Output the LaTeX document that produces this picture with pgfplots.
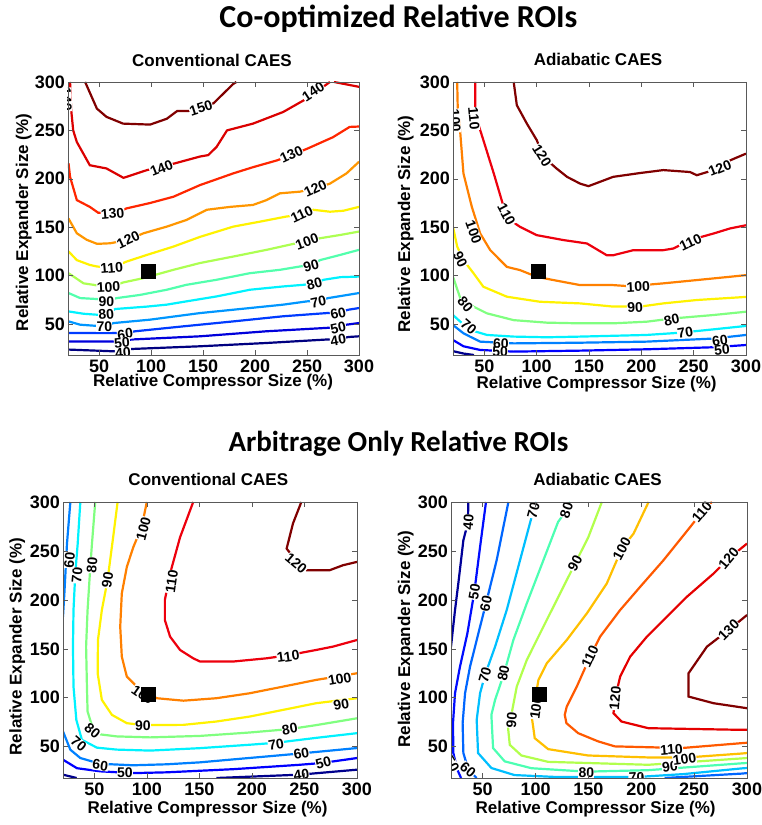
\documentclass[border=0pt]{standalone}
\usepackage{fontspec}
\setmainfont{Liberation Sans}
\newfontfamily\carlito{Carlito}
\usepackage{pgfplots}
\pgfplotsset{compat=1.18}

% contour colours (jet-like)
\definecolor{a40}{rgb}{0,0,0.5}
\definecolor{a50}{rgb}{0,0,0.86}
\definecolor{a60}{rgb}{0,0.23,1}
\definecolor{a70}{rgb}{0,0.59,1}
\definecolor{a80}{rgb}{0,0.95,1}
\definecolor{a90}{rgb}{0.32,1,0.68}
\definecolor{a100}{rgb}{0.68,1,0.32}
\definecolor{a110}{rgb}{1,0.95,0}
\definecolor{a120}{rgb}{1,0.59,0}
\definecolor{a130}{rgb}{1,0.15,0}
\definecolor{a140}{rgb}{0.86,0,0}
\definecolor{a150}{rgb}{0.5,0,0}

\definecolor{c40}{rgb}{0,0,0.55}
\definecolor{c50}{rgb}{0,0,1}
\definecolor{c60}{rgb}{0,0.5,1}
\definecolor{c70}{rgb}{0,0.95,1}
\definecolor{c80}{rgb}{0.5,1,0.5}
\definecolor{c90}{rgb}{1,0.95,0}
\definecolor{c100}{rgb}{1,0.5,0}
\definecolor{c110}{rgb}{0.93,0,0.05}
\definecolor{c120}{rgb}{0.5,0,0}

\definecolor{b40}{rgb}{0,0,0.6}
\definecolor{b50}{rgb}{0,0.05,1}
\definecolor{b60}{rgb}{0,0.4,1}
\definecolor{b70}{rgb}{0,0.75,1}
\definecolor{b80}{rgb}{0.3,1,0.7}
\definecolor{b90}{rgb}{0.7,1,0.3}
\definecolor{b100}{rgb}{1,0.75,0}
\definecolor{b110}{rgb}{1,0.35,0}
\definecolor{b120}{rgb}{0.9,0,0}
\definecolor{b130}{rgb}{0.5,0,0}

\newcommand{\tickfont}{\fontsize{18}{20}\selectfont\bfseries}
\newcommand{\labfont}{\fontsize{17}{20}\selectfont\bfseries}
\newcommand{\titfont}{\fontsize{32}{36}\selectfont\carlito\bfseries}
\newcommand{\cl}[4]{\node[fill=white, inner sep=0.3pt, rotate=#3,
  font=\fontsize{14}{16}\selectfont\bfseries] at (axis cs:#1,#2) {#4};}

\pgfplotsset{
  roi/.style={
    scale only axis, anchor=south west,
    xmin=20, xmax=300, ymin=18, ymax=300,
    xtick={50,100,150,200,250,300},
    ytick={50,100,150,200,250,300},
    tick align=inside, major tick length=5pt,
    axis line style={black!65, line width=0.8pt},
    tick style={black!65, line width=0.6pt},
    ticklabel style={font=\tickfont},
    xticklabel style={anchor=base, yshift=-18pt, inner sep=0pt},
    yticklabel style={anchor=east, xshift=-3pt, inner sep=0pt},
    /pgf/number format/assume math mode=true,
    axis on top,
    every axis plot/.append style={line width=2.2pt},
  },
  sq/.style={only marks, mark=square*, mark size=7pt, mark options={black, line width=0pt}},
}

\begin{document}
\begin{tikzpicture}
\path[use as bounding box] (0pt,0pt) rectangle (761pt,825pt);

% ---------------- top left: co-optimized, conventional
\begin{axis}[roi, at={(68pt,470pt)}, width=291pt, height=273pt]
\addplot[a150] coordinates {(36.5,300) (47.8,272.5) (57,264) (73,257) (99,256) (115,262) (125,270) (136,270) (160,278) (179,298) (182,300)};
\addplot[a140] coordinates {(22,300) (23,272) (25,250) (28.5,238) (41,214) (57,210.7) (73.4,201) (96,209) (123,216) (147,223) (155,224.5) (163,233) (173,250) (198,257) (227,269) (250,283) (272,300)};
\addplot[a140] coordinates {(276,300) (300,295)};
\addplot[a130] coordinates {(20.5,216) (22,202) (28.5,178) (41,171) (49,165) (63,164) (76.6,169.5) (99,175) (121.5,181.5) (147,193.5) (179,205.6) (198,212) (221,219) (235,224.5) (250,231) (275,243) (291,253.6) (300,254)};
\addplot[a120] coordinates {(20.5,159) (28.5,143.7) (38,137) (48,132.8) (60.6,133.4) (78,137) (92.6,143.7) (115,150.6) (134,157.5) (153.5,168) (176,171) (198,173) (211,178) (224,185) (243,186.7) (258,190) (272,195) (288,205.6) (300,217.6)};
\addplot[a110] coordinates {(20.5,125) (28.5,116) (41,111) (48,109.4) (62,108) (76.6,114.6) (96,121.4) (121.5,130) (147,140) (179,150.6) (205,155.8) (230,161) (245,163) (256,168) (272,166) (285,167) (300,171)};
\addplot[a100] coordinates {(20.5,102.5) (35,92) (44.5,90.5) (59,88) (73.4,93) (92.6,97.4) (121.5,106) (147,113) (179,119.7) (211,126.6) (237,132.8) (250,135) (262.5,138.6) (282,142) (300,145.5)};
\addplot[a90] coordinates {(20.5,82) (31.7,76.8) (48,75.8) (57,74) (67,76.8) (89,80) (115,85.4) (134,90.5) (163,95.7) (195,102.5) (224,106) (243,109.4) (254,111) (262.5,116) (282,121.4) (300,126.6)};
\addplot[a80] coordinates {(20.5,63) (35,60.6) (48,59.6) (56.7,60) (65.4,65.5) (96,68) (115,70) (134,73.4) (163,78.5) (195,85.4) (227,88.8) (246.5,90.5) (257,92) (266,95.7) (282,98.4) (300,99)};
\addplot[a70] coordinates {(20.5,52.7) (31.7,49.3) (44.5,48.3) (55,48) (64,51) (99,54.5) (147,61.3) (195,66.5) (227,70) (250,73.4) (261,74) (270.5,76.8) (300,82)};
\addplot[a60] coordinates {(20.5,40.7) (51,40.7) (65.4,40.7) (75,40.5) (84.6,42.5) (131,47.6) (179,52.7) (227,58) (269,61.3) (280,62) (290,64.8) (300,66.5)};
\addplot[a50] coordinates {(20.5,32) (73.4,32) (81,34) (147,37.3) (211,42.5) (269,46) (280,47) (288,49.3) (300,51)};
\addplot[a40] coordinates {(20.5,23.6) (64,21.8) (73,22) (81,24.2) (147,27) (211,30.4) (269,34) (280,34.5) (290,36.6) (300,37.3)};
\cl{148}{273}{18}{150}
\cl{18.5}{282}{-88}{140}
\cl{110}{211}{22}{140}
\cl{256}{290}{33}{140}
\cl{63}{164}{5}{130}
\cl{235}{225}{25}{130}
\cl{78}{137}{25}{120}
\cl{258}{190}{25}{120}
\cl{62}{108}{5}{110}
\cl{245}{163}{25}{110}
\cl{59}{88}{3}{100}
\cl{250}{135}{20}{100}
\cl{57}{73}{0}{90}
\cl{254}{110}{15}{90}
\cl{56.7}{60}{5}{80}
\cl{257}{91}{15}{80}
\cl{55}{47.5}{0}{70}
\cl{261}{73}{12}{70}
\cl{75}{39.5}{8}{60}
\cl{280}{61}{12}{60}
\cl{72}{30.5}{5}{50}
\cl{280}{46}{12}{50}
\cl{73}{20.5}{5}{40}
\cl{280}{33.5}{10}{40}
\addplot[sq] coordinates {(97,104)};
\end{axis}

% ---------------- top right: co-optimized, adiabatic
\begin{axis}[roi, at={(453pt,470pt)}, width=293pt, height=273pt]
\addplot[c120] coordinates {(78,300) (81,276) (90.6,257) (100,240) (106.5,222.6) (119,210.6) (129,202) (141.5,195) (149.5,192.4) (173,202) (199,206) (221,209) (246.5,207) (253,203.7) (269,209) (284.7,219) (300,226)};
\addplot[c110] coordinates {(41.3,300) (41.3,274) (43,260.5) (49,240) (59,205.4) (68.4,171) (74.7,157.3) (84,150.4) (100,141.8) (125.6,136.7) (148,133.2) (167,121) (173,121) (192.4,126.3) (221,126.3) (230.6,128) (246.5,136.7) (269,143.5) (284.7,148.7) (300,152)};
\addplot[c100] coordinates {(24,300) (24.5,274) (27,246.7) (30,205.4) (38,171) (46,143.5) (55.6,126.3) (71.5,109) (84,105.7) (100,98.8) (116,95.4) (141.5,90.2) (173,90.2) (189,89) (221,92) (253,95.4) (284.7,98.8) (300,100.5)};
\addplot[c90] coordinates {(20,150.4) (24,130) (30,116) (39.7,102.3) (49,88.5) (71.5,78.2) (103,73) (141.5,71.3) (173,68) (199,68) (221,71.3) (253,74.8) (300,78)};
\addplot[c80] coordinates {(20,98.8) (27,76.5) (39.7,67.9) (52.5,61) (78,54) (109.7,51.4) (141.5,50.7) (173,50.7) (205,52.4) (230.6,55.8) (269,59.3) (300,62.7)};
\addplot[c70] coordinates {(20,59.3) (27,52.4) (36.5,43.8) (52.5,38.7) (78,37) (109.7,36.3) (141.5,37) (205,38.7) (237,41) (269,44.5) (300,48)};
\addplot[c60] coordinates {(20,49) (30,40.4) (46,31.8) (78,30) (141.5,30.7) (205,31.8) (269,35) (300,38.7)};
\addplot[c50] coordinates {(20,33.5) (30,27) (46,23.2) (78,21.5) (141.5,22.5) (205,23.9) (269,26) (300,28.3)};
\addplot[c40] coordinates {(20,22) (30,19.5) (40,18)};
\cl{105}{224}{-58}{120}
\cl{275}{211}{22}{120}
\cl{40}{262}{-85}{110}
\cl{71}{163}{-62}{110}
\cl{247}{134}{25}{110}
\cl{22}{260}{-86}{100}
\cl{39.7}{145}{-70}{100}
\cl{197}{88.5}{3}{100}
\cl{27}{117}{-65}{90}
\cl{194}{67}{3}{90}
\cl{31.8}{70}{-50}{80}
\cl{229}{54}{12}{80}
\cl{35}{47}{-40}{70}
\cl{242}{41}{10}{70}
\cl{65.8}{29.8}{0}{60}
\cl{275}{33}{8}{60}
\cl{65}{21}{0}{50}
\cl{277}{23}{5}{50}
\addplot[sq] coordinates {(102,104)};
\end{axis}

% ---------------- bottom left: arbitrage, conventional
\begin{axis}[roi, at={(63pt,47pt)}, width=294pt, height=276pt]
\addplot[c120] coordinates {(247,300) (239,278) (233,252.4) (239,244) (252,230.3) (274,230.3) (286.7,235.4) (300,238.8)};
\addplot[c110] coordinates {(144,300) (131.5,264) (122,227) (117,199.8) (117,179.4) (122,162.4) (131.5,148.8) (144,140.3) (150.5,137) (182,137) (214,140.3) (236,143.7) (261,148.8) (277,152.2) (300,159)};
\addplot[c100] coordinates {(99.8,300) (95,274.5) (87,254) (80.8,233.7) (76,206.6) (74.5,172.6) (76,142) (80.8,121.6) (90.3,111.4) (99.8,104.6) (109.3,99.5) (134.7,97) (166,99.5) (198,104.6) (229.7,111.4) (261,118.2) (300,125)};
\addplot[c90] coordinates {(72,300) (68,266) (62.4,220) (57,189.6) (53.3,159) (53,125) (57,97.8) (66.6,82.5) (80.8,74) (96.7,72) (134.7,72.3) (166,75.7) (198,80.8) (229.7,87.6) (261,94.4) (300,99.5)};
\addplot[c80] coordinates {(50.7,300) (47.6,257.5) (46,233.7) (43.4,189.6) (42,152.2) (42.8,111.4) (43.4,86) (48,70) (56,62.5) (71.3,60.5) (103,59.5) (150.5,61) (198,64.5) (236,68) (261,72) (300,79)};
\addplot[c70] coordinates {(36.5,300) (34,257.5) (31.7,227) (30,189.6) (29.5,152.2) (30,111.4) (32.7,77.4) (38,57) (52.3,49) (71.3,47) (103,46) (150.5,48.5) (198,52) (223,54) (261,59) (300,63.8)};
\addplot[c60] coordinates {(27,300) (23.8,257.5) (21.3,206.6) (20,182.8)};
\addplot[c60] coordinates {(20,65.6) (27,46.9) (36.5,38.4) (55.5,32.5) (87,31) (118.8,32) (150.5,34) (182,37) (214,40) (245.5,43) (300,48.6)};
\addplot[c50] coordinates {(20,36.7) (33.3,28) (55.5,24.8) (87,23) (118.8,23.8) (182,27) (245.5,31.5) (268,33.5) (300,38.4)};
\addplot[c40] coordinates {(20,21.4) (33,18)};
\addplot[c40] coordinates {(166,18) (245.5,21.4) (300,26.5)};
\cl{242}{237}{-40}{120}
\cl{123.6}{218.5}{82}{110}
\cl{234.5}{142}{8}{110}
\cl{96.7}{272.8}{75}{100}
\cl{96}{103}{-35}{100}
\cl{283.5}{119}{10}{100}
\cl{62.4}{220}{82}{90}
\cl{96}{71}{0}{90}
\cl{285}{93}{10}{90}
\cl{47.6}{235.4}{85}{80}
\cl{48}{66}{-40}{80}
\cl{236}{68}{10}{80}
\cl{33.3}{225}{85}{70}
\cl{35}{53}{-40}{70}
\cl{223}{52}{10}{70}
\cl{26.3}{240.5}{85}{60}
\cl{55.5}{31}{-8}{60}
\cl{247}{43}{10}{60}
\cl{79}{23.5}{0}{50}
\cl{268}{33.5}{15}{50}
\cl{247}{21}{8}{40}
\addplot[sq] coordinates {(101.4,103)};
\end{axis}

% ---------------- bottom right: arbitrage, adiabatic
\begin{axis}[roi, at={(451pt,47pt)}, width=296pt, height=276pt]
\addplot[b130] coordinates {(300,184.5) (282.6,169.2) (262.1,152.2) (244.7,125) (244.7,101.2) (268.4,94.4) (300,89.3)};
\addplot[b120] coordinates {(300,257.5) (282.6,242.2) (268.4,226.9) (243.2,203.2) (224.2,182.8) (205.3,162.4) (189.5,142) (180,121.6) (175.3,99.5) (173.7,84.2) (181.3,75.7) (206.6,68.9) (294.9,67.2) (300,67.2)};
\addplot[b110] coordinates {(266.8,300) (257.4,289.8) (246.3,274.5) (221,240.5) (199,213.4) (180,189.6) (161,162.4) (151.6,142) (139,111.4) (129.5,91) (127.6,82.5) (129.2,74) (140.3,63.8) (159.2,55.4) (175,50.3) (238.1,48.6) (294.9,53.6) (300,54)};
\addplot[b100] coordinates {(206.9,300) (192.7,267.7) (181.6,252.4) (167.4,216.8) (148.5,186.2) (129.5,159) (110.6,135.2) (102.7,118.2) (99.5,97.8) (96.1,82.5) (97.7,70.6) (99.2,58.7) (111.9,47.5) (149.7,41) (206.6,39) (241,38.8) (294.9,43) (300,43.5)};
\addplot[b90] coordinates {(162.7,300) (150,264.3) (137.4,237.1) (123.2,206.6) (107.4,172.6) (91.7,138.6) (82.2,111.4) (77.4,84.2) (74,68.9) (75.6,51.9) (86.6,41) (111.9,34.5) (206.6,31.5) (294.9,38) (300,38.4)};
\addplot[b80] coordinates {(132.7,300) (129.2,291.5) (121.3,279.6) (107.4,240.5) (91.7,196.4) (79,159) (70.2,125) (61.7,97.8) (58.2,82.5) (59.8,48.6) (70.8,35) (96.1,28) (148,24.5) (206.6,26) (294.9,33) (300,33.3)};
\addplot[b70] coordinates {(101,300) (98,291.5) (95,279.6) (85.3,240.5) (72.7,189.6) (61.7,152.2) (52.2,123.3) (47.5,104.6) (44.3,77.4) (45.6,43.5) (58.2,28.2) (80,21) (120,19) (195.5,19) (240,22) (294.9,27.8) (300,28.2)};
\addplot[b60] coordinates {(74.3,300) (63.2,240.5) (53.1,196.4) (45.9,165.8) (38,131.8) (33.3,104.6) (31,74) (31.7,43.5) (36.4,26.5) (44.3,18)};
\addplot[b60] coordinates {(222,18) (295,22.5) (300,23)};
\addplot[b50] coordinates {(53.1,300) (47.5,254.1) (42.1,208.3) (35.5,165.8) (28.5,131.8) (23.8,104.6) (21.9,74) (22.2,43.5) (26,26.5) (29.5,18)};
\addplot[b40] coordinates {(36.4,300) (36,279) (31.7,260.9) (27.3,220.2) (23.8,189.6) (20,152.2)};
\cl{36.5}{279}{85}{40}
\cl{42.1}{208.3}{80}{50}
\cl{21}{32}{-60}{50}
\cl{53.1}{196.4}{78}{60}
\cl{36.1}{26.5}{-40}{60}
\cl{98}{291.5}{75}{70}
\cl{52.2}{123.3}{75}{70}
\cl{195.5}{18.5}{3}{70}
\cl{129.2}{291.5}{72}{80}
\cl{69.6}{125}{78}{80}
\cl{148}{23.5}{0}{80}
\cl{137.4}{237.1}{62}{90}
\cl{77.4}{77.4}{85}{90}
\cl{227}{30}{8}{90}
\cl{181.6}{252.4}{62}{100}
\cl{100.5}{90}{82}{100}
\cl{241}{37}{8}{100}
\cl{257.4}{289.8}{50}{110}
\cl{151.6}{142}{65}{110}
\cl{228.6}{47}{5}{110}
\cl{282.6}{242.2}{50}{120}
\cl{175.3}{99.5}{85}{120}
\cl{282.6}{169.2}{45}{130}
\addplot[sq] coordinates {(103.3,102.9)};
\end{axis}

% ---------------- titles and axis labels
\node[font=\titfont, anchor=base] at (398.5pt,797pt) {Co-optimized Relative ROIs};
\node[font=\fontsize{29}{33}\selectfont\carlito\bfseries, anchor=base] at (398.5pt,373pt) {Arbitrage Only Relative ROIs};
\node[font=\labfont, anchor=base] at (212pt,758.3pt) {Conventional CAES};
\node[font=\labfont, anchor=base] at (598pt,759pt) {Adiabatic CAES};
\node[font=\labfont, anchor=base] at (208.3pt,339pt) {Conventional CAES};
\node[font=\labfont, anchor=base] at (597.5pt,339pt) {Adiabatic CAES};
\node[font=\labfont, anchor=base] at (213pt,438.3pt) {Relative Compressor Size (\%)};
\node[font=\labfont, anchor=base] at (596.7pt,436.7pt) {Relative Compressor Size (\%)};
\node[font=\labfont, anchor=base] at (207.5pt,11.7pt) {Relative Compressor Size (\%)};
\node[font=\labfont, anchor=base] at (595.7pt,11pt) {Relative Compressor Size (\%)};
\node[font=\labfont, anchor=base, rotate=90] at (28pt,602.5pt) {Relative Expander Size (\%)};
\node[font=\labfont, anchor=base, rotate=90] at (410pt,601pt) {Relative Expander Size (\%)};
\node[font=\labfont, anchor=base, rotate=90] at (21.7pt,178.3pt) {Relative Expander Size (\%)};
\node[font=\labfont, anchor=base, rotate=90] at (410pt,186pt) {Relative Expander Size (\%)};
\end{tikzpicture}
\end{document}
